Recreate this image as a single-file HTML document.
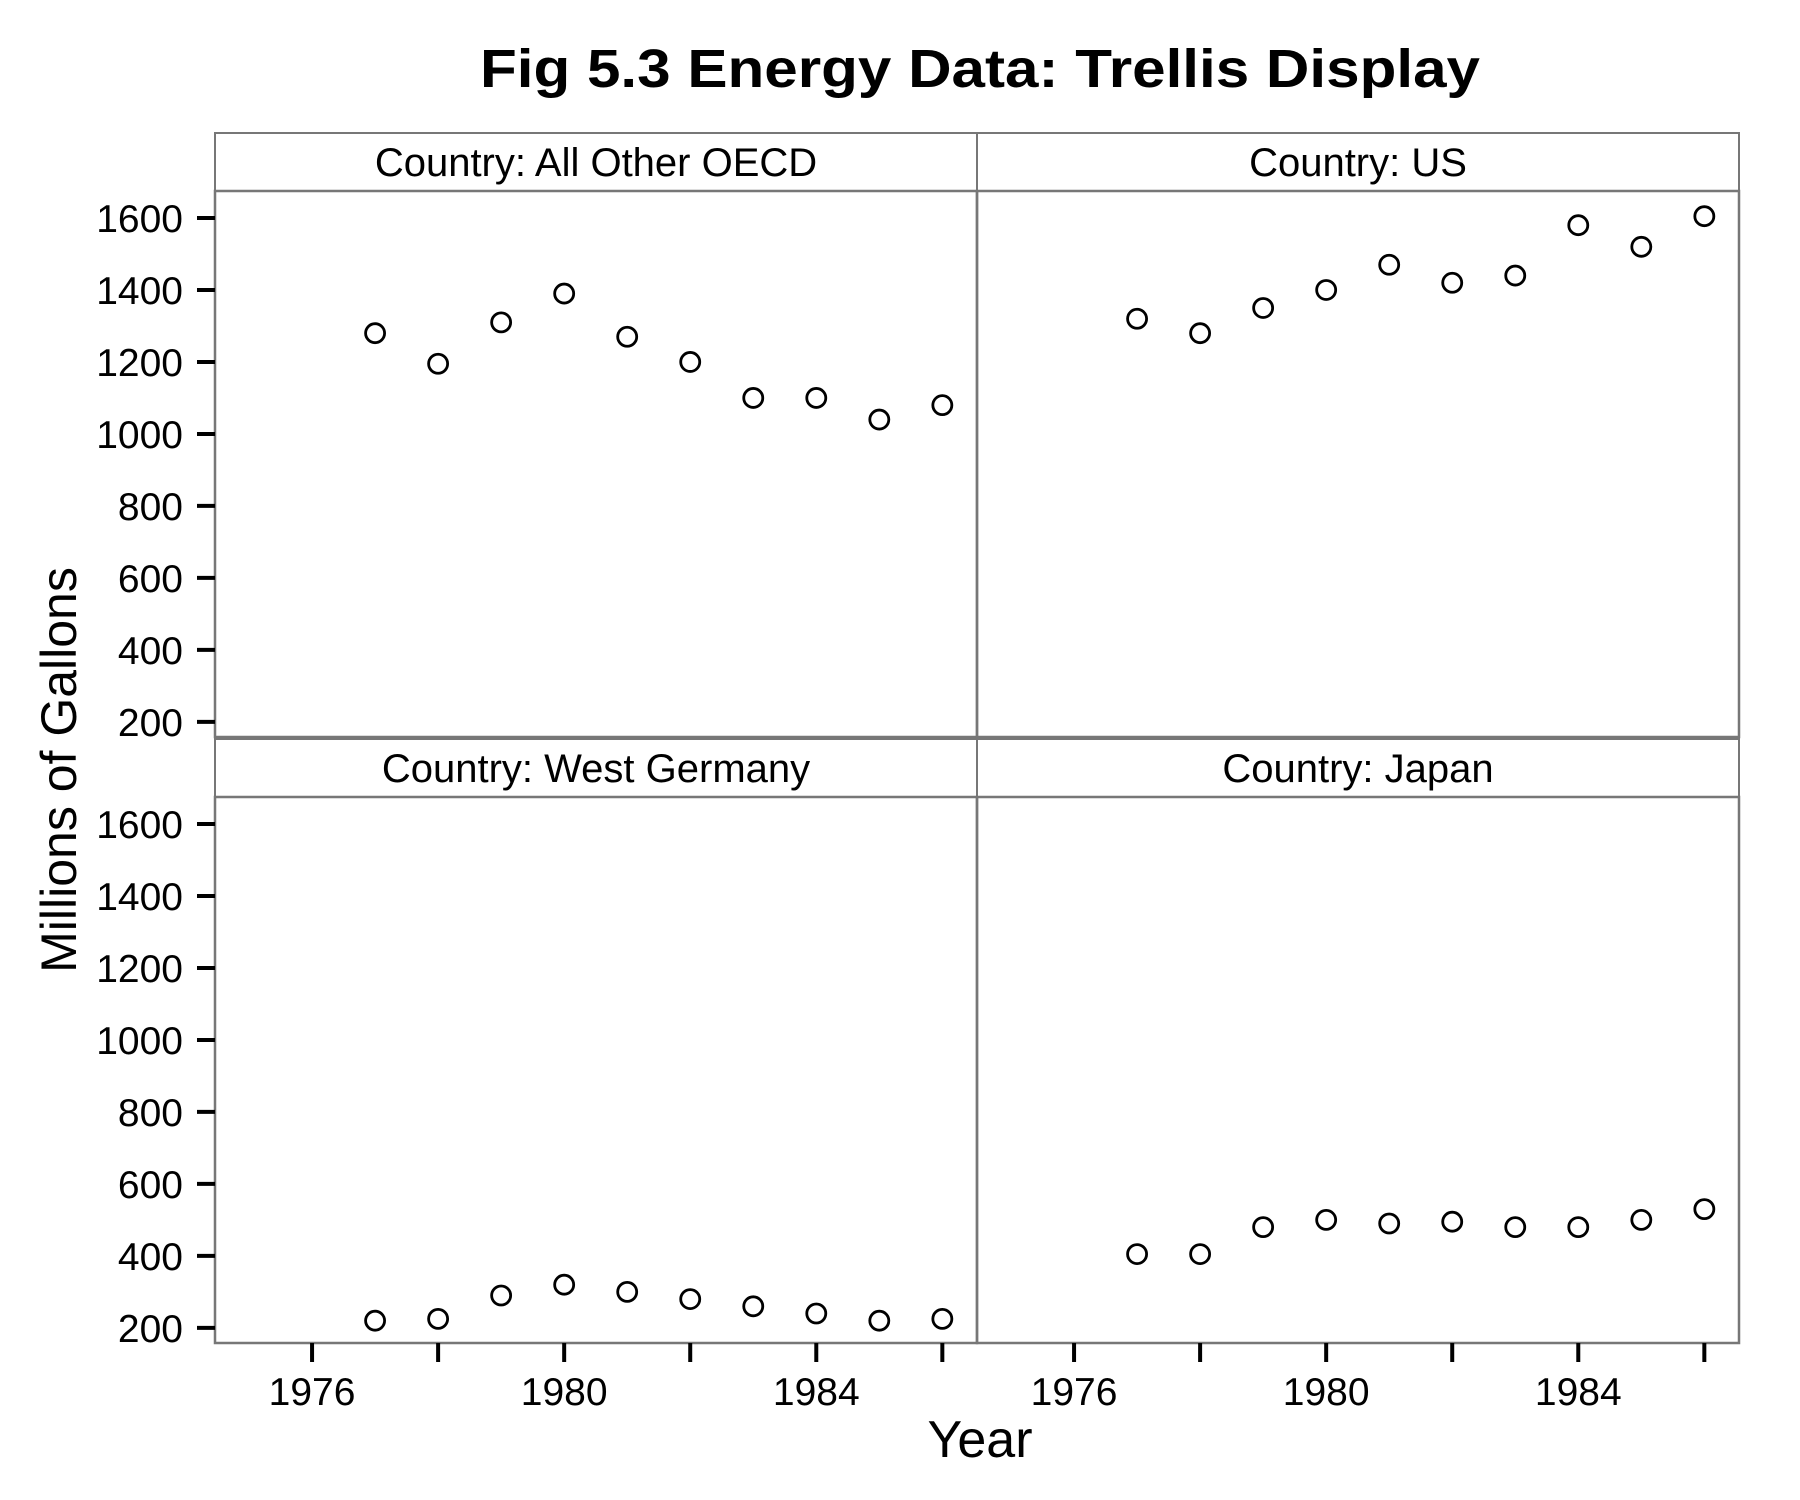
<!DOCTYPE html>
<html><head><meta charset="utf-8"><style>
html,body{margin:0;padding:0;background:#fff;}
svg{display:block;font-family:"Liberation Sans",Arial,sans-serif;}
</style></head><body>
<svg id="chart" width="1800" height="1500" viewBox="0 0 1800 1500">
<text x="980" y="87" text-anchor="middle" font-size="54" font-weight="bold" textLength="1000" lengthAdjust="spacingAndGlyphs">Fig 5.3 Energy Data: Trellis Display</text>
<text transform="translate(76,770) rotate(-90)" text-anchor="middle" font-size="50">Millions of Gallons</text>
<text x="980" y="1457" text-anchor="middle" font-size="52">Year</text>
<g id="panels"></g>
</svg>
<script>
const years = [1977,1978,1979,1980,1981,1982,1983,1984,1985,1986];
const panelNames = ["Country: All Other OECD","Country: US","Country: West Germany","Country: Japan"];
const oecdValues = [1280,1195,1310,1390,1270,1200,1100,1100,1040,1080];
const usValues = [1320,1280,1350,1400,1470,1420,1440,1580,1520,1605];
const germanyValues = [220,225,290,320,300,280,260,240,220,225];
const japanValues = [405,405,480,500,490,495,480,480,500,530];
const yTicks = [200,400,600,800,1000,1200,1400,1600];
const xTicks = [1976,1978,1980,1982,1984,1986];
const xTickLabels = [1976,1980,1984];

const NS="http://www.w3.org/2000/svg";
const g=document.getElementById('panels');
const series=[oecdValues,usValues,germanyValues,japanValues];
const slugs=["all-other-oecd","us","west-germany","japan"];
const colX=[215,977], panelW=762;
const rowStrip=[133,739], stripH=58, panelH=546;
const xMin=1974.46, xMax=1986.55, yMin=158, yMax=1675;
function xs(c,v){return colX[c]+(v-xMin)/(xMax-xMin)*panelW;}
function ys(r,v){const top=rowStrip[r]+stripH;return top+panelH-(v-yMin)/(yMax-yMin)*panelH;}
function mk(tag,attrs,parent){const e=document.createElementNS(NS,tag);for(const k in attrs)e.setAttribute(k,attrs[k]);(parent||g).appendChild(e);return e;}

for(let i=0;i<4;i++){
  const r=Math.floor(i/2), c=i%2;
  const pg=mk('g',{});
  
  
  const strip=mk('rect',{x:colX[c],y:rowStrip[r],width:panelW,height:stripH,fill:'#fff',stroke:'#777','stroke-width':2},pg);
  
  
  const st=mk('text',{x:colX[c]+panelW/2,y:rowStrip[r]+43,'text-anchor':'middle','font-size':40},pg);
  st.textContent=panelNames[i];
  
  
  const fr=mk('rect',{x:colX[c],y:rowStrip[r]+stripH,width:panelW,height:panelH,fill:'none',stroke:'#777','stroke-width':2.5},pg);
  
  
  series[i].forEach((v,j)=>{
    const p=mk('circle',{cx:xs(c,years[j]),cy:ys(r,v),r:9.5,fill:'none',stroke:'#000','stroke-width':2.8},pg);
    
    
  });
  if(c===0){
    yTicks.forEach(v=>{
      const y=ys(r,v);
      const t=mk('line',{x1:197,x2:215,y1:y,y2:y,stroke:'#000','stroke-width':4},pg);
      
      
      const l=mk('text',{x:183,y:y+14,'text-anchor':'end','font-size':39},pg);
      l.textContent=v;
      
      
    });
  }
  if(r===1){
    const yb=rowStrip[r]+stripH+panelH;
    xTicks.forEach(v=>{
      const x=xs(c,v);
      const t=mk('line',{x1:x,x2:x,y1:yb,y2:yb+19,stroke:'#000','stroke-width':4},pg);
      
      
    });
    xTickLabels.forEach(v=>{
      const l=mk('text',{x:xs(c,v),y:yb+62,'text-anchor':'middle','font-size':39},pg);
      l.textContent=v;
      
      
    });
  }
}
</script>
</body></html>
